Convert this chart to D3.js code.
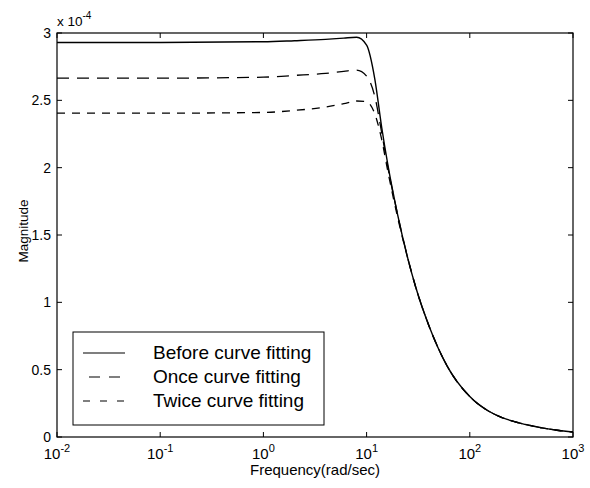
<!DOCTYPE html>
<html>
<head>
<meta charset="utf-8">
<script src="https://cdn.jsdelivr.net/npm/d3@7"></script>
<style>
  body { margin: 0; background: #fff; }
  text { font-family: "Liberation Sans", Arial, sans-serif; fill: #000; }
</style>
</head>
<body>
<div id="chart"></div>
<script>
// frequency (rad/sec) and magnitude (x 1e-4)
const freq    = [0.01, 0.1, 1, 2, 4, 6, 8, 10, 12, 14, 16, 20, 25, 30, 40, 60, 100, 150, 200, 300, 500, 700, 1000];
const before  = [2.93, 2.93, 2.935, 2.943, 2.953, 2.962, 2.968, 2.91, 2.66, 2.30, 2.03, 1.65, 1.33, 1.11, 0.83, 0.53, 0.30, 0.195, 0.148, 0.105, 0.068, 0.05, 0.037];
const once    = [2.665, 2.665, 2.672, 2.685, 2.70, 2.715, 2.725, 2.68, 2.53, 2.26, 2.01, 1.65, 1.33, 1.11, 0.83, 0.53, 0.30, 0.195, 0.148, 0.105, 0.068, 0.05, 0.037];
const twice   = [2.405, 2.405, 2.41, 2.425, 2.45, 2.475, 2.495, 2.49, 2.40, 2.21, 1.98, 1.63, 1.33, 1.11, 0.83, 0.53, 0.30, 0.195, 0.148, 0.105, 0.068, 0.05, 0.037];
const legendNames = ["Before curve fitting", "Once curve fitting", "Twice curve fitting"];
const xTickExp = [-2, -1, 0, 1, 2, 3];
const yTicks = [0, 0.5, 1, 1.5, 2, 2.5, 3];

const W = 590, H = 488;
const margin = {top: 33, right: 17, bottom: 51, left: 57};
const w = W - margin.left - margin.right;
const h = H - margin.top - margin.bottom;

const svg = d3.select("#chart").append("svg")
  .attr("width", W).attr("height", H);
const g = svg.append("g")
  .attr("transform", "translate(" + margin.left + "," + margin.top + ")");

const x = d3.scaleLog().domain([0.01, 1000]).range([0, w]);
const y = d3.scaleLinear().domain([0, 3]).range([h, 0]);

// frame
g.append("rect").attr("width", w).attr("height", h)
  .attr("fill", "none").attr("stroke", "#000").attr("stroke-width", 1.2);

// ticks inside, on all four sides
const tickLen = 5;
xTickExp.forEach(e => {
  const px = x(Math.pow(10, e));
  g.append("line").attr("x1", px).attr("x2", px).attr("y1", h).attr("y2", h - tickLen)
    .attr("stroke", "#000");
  g.append("line").attr("x1", px).attr("x2", px).attr("y1", 0).attr("y2", tickLen)
    .attr("stroke", "#000");
  const t = g.append("text").attr("x", px).attr("y", h + 22)
    .attr("text-anchor", "middle").attr("font-size", 15);
  t.append("tspan").text("10");
  t.append("tspan").attr("dy", -7).attr("font-size", 11).text(e);
});
yTicks.forEach(v => {
  const py = y(v);
  g.append("line").attr("x1", 0).attr("x2", tickLen).attr("y1", py).attr("y2", py)
    .attr("stroke", "#000");
  g.append("line").attr("x1", w).attr("x2", w - tickLen).attr("y1", py).attr("y2", py)
    .attr("stroke", "#000");
  g.append("text").attr("x", -6).attr("y", py + 5)
    .attr("text-anchor", "end").attr("font-size", 14).text(v);
});

// exponent label
const ex = g.append("text").attr("x", 0).attr("y", -7).attr("font-size", 13.5);
ex.append("tspan").text("x 10");
ex.append("tspan").attr("dy", -7).attr("font-size", 10).text("-4");

// axis titles
g.append("text").attr("x", w / 2).attr("y", h + 38)
  .attr("text-anchor", "middle").attr("font-size", 15).text("Frequency(rad/sec)");
g.append("text").attr("transform", "translate(-29," + (h / 2 - 4) + ") rotate(-90)")
  .attr("text-anchor", "middle").attr("font-size", 13.5).text("Magnitude");

// curves
const styles = [
  {data: before, dash: null, sw: 1.4},
  {data: once, dash: "12,8", sw: 1.3},
  {data: twice, dash: "8,7", sw: 1.3}
];
// legend samples: [x1, x2, dash]
const legendSample = [[10, 52, null], [16, 47, "11,9"], [10, 51, "7,10"]];
const line = d3.line()
  .x(d => x(d[0])).y(d => y(d[1]))
  .curve(d3.curveMonotoneX);
styles.forEach(s => {
  g.append("path")
    .datum(freq.map((f, i) => [f, s.data[i]]))
    .attr("fill", "none").attr("stroke", "#000")
    .attr("stroke-width", s.sw)
    .attr("stroke-dasharray", s.dash)
    .attr("d", line);
});

// legend
const lg = g.append("g").attr("transform", "translate(16,299)");
lg.append("rect").attr("width", 251).attr("height", 93)
  .attr("fill", "#fff").attr("stroke", "#000").attr("stroke-width", 1);
legendNames.forEach((name, i) => {
  const ly = 21 + i * 24;
  const sm = legendSample[i];
  lg.append("line").attr("x1", sm[0]).attr("x2", sm[1]).attr("y1", ly).attr("y2", ly)
    .attr("stroke", "#000").attr("stroke-width", 1.2)
    .attr("stroke-dasharray", sm[2]);
  lg.append("text").attr("x", 80).attr("y", ly + 6)
    .attr("font-size", 19).text(name);
});
</script>
</body>
</html>
